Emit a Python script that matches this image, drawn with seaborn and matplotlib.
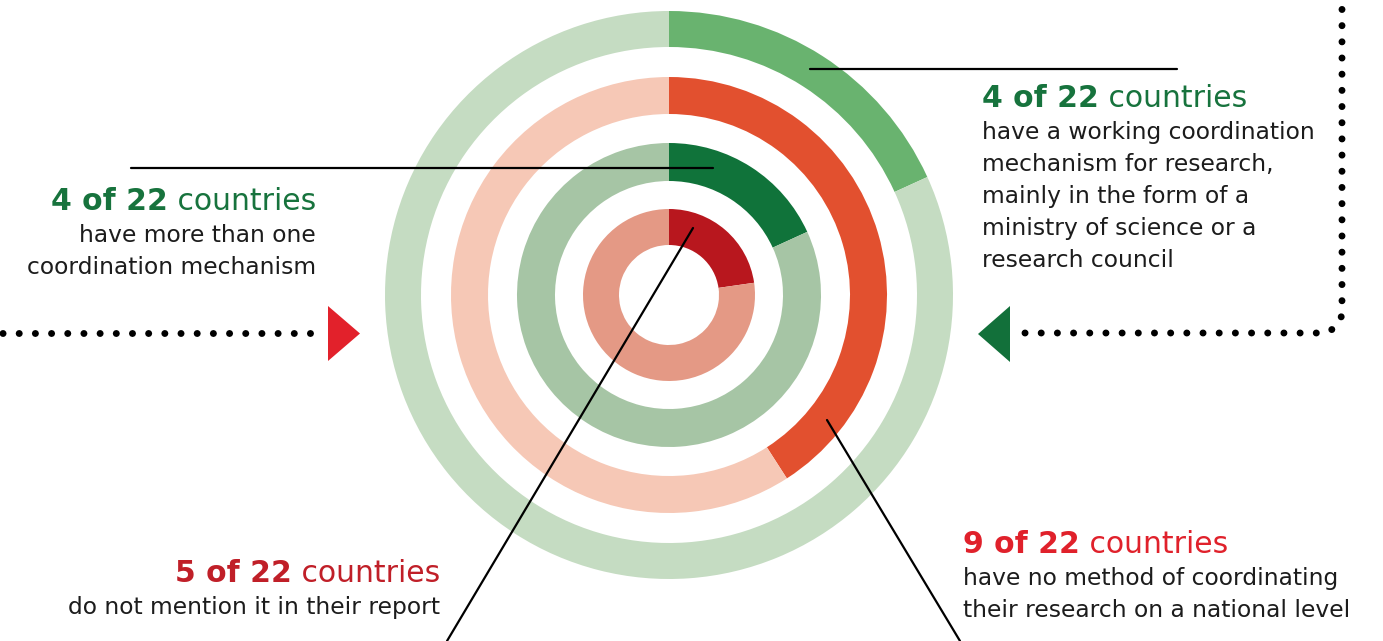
import numpy as np
import matplotlib
matplotlib.use("Agg")
import matplotlib.pyplot as plt
import seaborn as sns

sns.set_theme(style="white")
plt.rcParams['font.family'] = ['DejaVu Sans']

# ============================================================
# Data: one ring per statement, counted out of 22 countries
# ============================================================
total = 22
ring_counts = [4, 9, 4, 5]          # outer -> inner
ring_outer = [284, 218, 152, 86]
ring_inner = [248, 181, 114, 50]
dark_colors = ["#69b36f", "#e2502f", "#10733a", "#b8171e"]
light_colors = ["#c5dcc2", "#f6c8b6", "#a6c5a5", "#e49985"]

headings_bold = ["4 of 22", "9 of 22", "4 of 22", "5 of 22"]
heading_rest = " countries"
bodies = [
    ["have a working coordination", "mechanism for research,",
     "mainly in the form of a", "ministry of science or a",
     "research council"],
    ["have no method of coordinating", "their research on a national level"],
    ["have more than one", "coordination mechanism"],
    ["do not mention it in their report"],
]
head_colors = ["#17733d", "#e0212b", "#17733d", "#c01f28"]

W, H = 1383, 641
cx, cy = 669, 295


def Y(y):
    return H - y


fig = plt.figure(figsize=(W / 100, H / 100), dpi=100)
ax = fig.add_axes([0, 0, 1, 1])

# rings
for n, ro, ri, dc, lc in zip(ring_counts, ring_outer, ring_inner, dark_colors, light_colors):
    ax.pie([n, total - n], radius=ro, center=(cx, Y(cy)), startangle=90,
           counterclock=False, colors=[dc, lc],
           wedgeprops=dict(width=ro - ri, linewidth=0, antialiased=True))

ax.set_xlim(0, W)
ax.set_ylim(0, H)
ax.set_aspect("auto")
ax.axis("off")

# leader lines
lw = 1.6
ax.plot([810, 1177], [Y(69), Y(69)], color="black", lw=lw)
ax.plot([131, 713], [Y(168), Y(168)], color="black", lw=lw)
ax.plot([693, 447], [Y(228), Y(641)], color="black", lw=lw)
ax.plot([827, 960], [Y(420), Y(641)], color="black", lw=lw)

# dotted arrows
dot_style = dict(color="black", lw=5.0, linestyle=(0, (0.01, 2.32)),
                 dash_capstyle="round")
ax.plot([310, -10], [Y(333), Y(333)], **dot_style)
arc = np.linspace(-np.pi / 2, 0, 20)
px = np.concatenate([[1025], 1320 + 22 * np.cos(arc), [1342]])
py = np.concatenate([[Y(333)], Y(311) + 22 * np.sin(arc), [Y(-10)]])
ax.plot(px, py, **dot_style)

ax.fill([328, 360, 328], [Y(306), Y(333.5), Y(361)], color="#e2212b", lw=0)
ax.fill([1010, 978, 1010], [Y(306), Y(334), Y(362)], color="#12703a", lw=0)

# text blocks
renderer = fig.canvas.get_renderer()
head_size = 21.5
body_size = 16.8
text_color = "#1c1c1c"
blocks = [
    (982, 107, "left"),
    (963, 553, "left"),
    (316, 210, "right"),
    (440, 582, "right"),
]
for (x, yb, align), bold, col, lines in zip(blocks, headings_bold, head_colors, bodies):
    if align == "left":
        t = ax.text(x, Y(yb), bold, fontsize=head_size, fontweight="bold",
                    color=col, ha="left", va="baseline")
        w = t.get_window_extent(renderer).width
        ax.text(x + w, Y(yb), heading_rest, fontsize=head_size, color=col,
                ha="left", va="baseline")
    else:
        t = ax.text(x, Y(yb), heading_rest, fontsize=head_size, color=col,
                    ha="right", va="baseline")
        w = t.get_window_extent(renderer).width
        ax.text(x - w, Y(yb), bold, fontsize=head_size, fontweight="bold",
                color=col, ha="right", va="baseline")
    for i, line in enumerate(lines):
        ax.text(x, Y(yb + 32 + 32 * i), line, fontsize=body_size,
                color=text_color, ha=align, va="baseline")

fig.savefig("out.png", dpi=100)
